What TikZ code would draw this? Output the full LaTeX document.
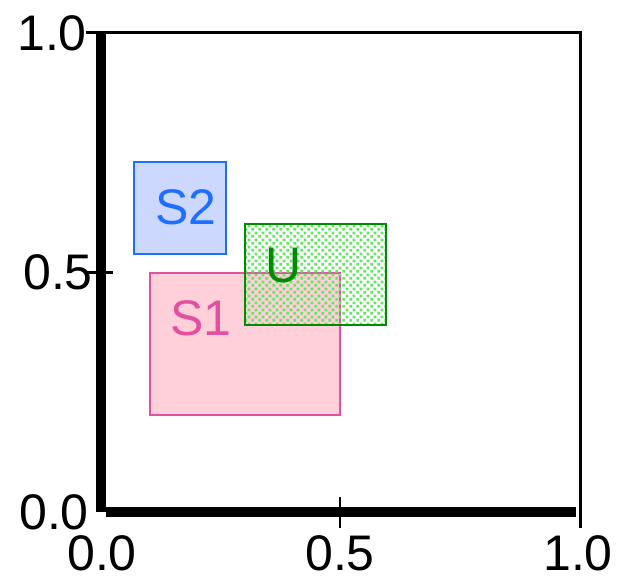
\documentclass[tikz,border=0pt]{standalone}
\usepackage{fontspec}
\setmainfont{Liberation Sans}
\usetikzlibrary{patterns.meta}
\definecolor{pinkfill}{RGB}{255,208,218}
\definecolor{pinkline}{RGB}{228,80,160}
\definecolor{bluefill}{RGB}{205,216,255}
\definecolor{blueline}{RGB}{30,110,255}
\definecolor{greenline}{RGB}{0,140,0}
\definecolor{greenpat}{RGB}{100,230,100}
\tikzdeclarepattern{name=mycheck, type=uncolored,
  bottom left={(0pt,0pt)}, top right={(3.4pt,3.4pt)}, tile size={(3.4pt,3.4pt)},
  code={\fill (0.15pt,0.15pt) rectangle (1.55pt,1.55pt); \fill (1.85pt,1.85pt) rectangle (3.25pt,3.25pt);}}
\tikzset{
  axisthick/.style={line width=5pt},
  thinline/.style={line width=1.2pt},
  ticklabel/.style={font=\fontsize{25}{30}\selectfont, inner sep=0pt},
  setlabel/.style={font=\fontsize{25}{30}\selectfont, inner sep=0pt},
  setbox/.style={line width=1pt}
}
\begin{document}
\begin{tikzpicture}[x=0.5pt,y=-0.5pt]
\useasboundingbox[fill=white] (0,0) rectangle (621,580);
% sets
\filldraw[setbox, fill=bluefill, draw=blueline] (134,162) rectangle (226,254);
\filldraw[setbox, fill=pinkfill, draw=pinkline] (150,273) rectangle (340,415);
\fill[pattern=mycheck, pattern color=greenpat] (245,224) rectangle (386,325);
\draw[setbox, draw=greenline] (245,224) rectangle (386,325);
\node[setlabel, text=blueline] (s2) at (186,207) {S2};
\node[setlabel, text=pinkline] (s1) at (201,318) {S1};
\node[setlabel, text=greenline] (u) at (284,266) {U};
% frame
\draw[thinline] (86,32.5) -- (580.3,32.5) -- (580.3,528);
\draw[thinline] (85,272.5) -- (113,272.5);
\draw[thinline] (340,497) -- (340,528);
\draw[axisthick] (101,33) -- (101,512);
\draw[axisthick] (106,511.7) -- (575.5,511.7);
% tick labels
\node[ticklabel] (y10) at (52,33) {1.0};
\node[ticklabel] (y05) at (58,272) {0.5};
\node[ticklabel] (y00) at (54,512) {0.0};
\node[ticklabel] (x00) at (102,553) {0.0};
\node[ticklabel] (x05) at (340,553) {0.5};
\node[ticklabel] (x10) at (578,553) {1.0};
\end{tikzpicture}
\end{document}
